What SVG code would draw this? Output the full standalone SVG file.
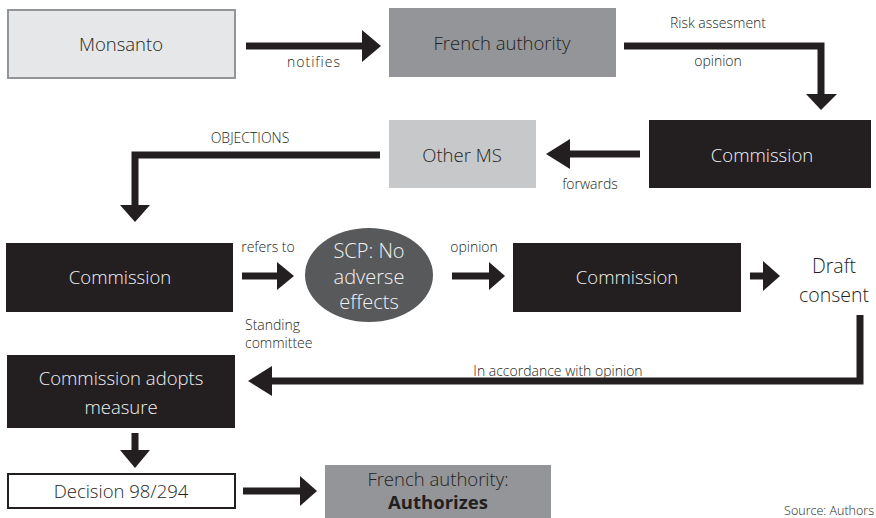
<svg xmlns="http://www.w3.org/2000/svg" width="876" height="518" viewBox="0 0 876 518">
<style>
.t{font-family:"Open Sans","Noto Sans","Liberation Sans",sans-serif;font-size:18.5px;font-weight:300;fill:#231f20;text-anchor:middle}
.w{fill:#f1f1f2}
.l{font-family:"Open Sans","Noto Sans","Liberation Sans",sans-serif;font-size:14px;font-weight:300;fill:#231f20;text-anchor:middle}
.dark{fill:#231f20}
.ln{fill:none;stroke:#231f20;stroke-width:7;stroke-linejoin:miter}
.hd{fill:#231f20}
</style>
<rect width="876" height="518" fill="#fff"/>
<g id="connectors">
  <path class="ln" d="M246 46H364"/><polygon class="hd" points="362,30 381,46 362,62"/>
  <path class="ln" d="M624 46H821V95"/><polygon class="hd" points="806,94 837,94 821,110"/>
  <path class="ln" d="M640 154H568"/><polygon class="hd" points="570,139 570,169 546,154"/>
  <path class="ln" d="M380 155H135V207"/><polygon class="hd" points="120,205 150,205 135,222"/>
  <path class="ln" d="M242 276H279"/><polygon class="hd" points="277,262 294,276 277,290"/>
  <path class="ln" d="M452 276H491"/><polygon class="hd" points="489,262 505,276 489,290"/>
  <path class="ln" d="M750 276H765"/><polygon class="hd" points="763,261 780,276 763,291"/>
  <path class="ln" d="M860 315V381H270"/><polygon class="hd" points="272,366 272,396 248,381"/>
  <path class="ln" d="M135 433V452"/><polygon class="hd" points="120,450 150,450 135,468"/>
  <path class="ln" d="M243 491H302"/><polygon class="hd" points="300,476 317,491 300,506"/>
  <text class="l" x="314" y="67" letter-spacing="1">notifies</text>
  <text class="l" x="718" y="28">Risk assesment</text>
  <text class="l" x="718" y="66">opinion</text>
  <text class="l" x="590" y="189">forwards</text>
  <text class="l" x="250" y="143">OBJECTIONS</text>
  <text class="l" x="268" y="252">refers to</text>
  <text class="l" x="245" y="330" style="text-anchor:start">Standing</text>
  <text class="l" x="245" y="348" style="text-anchor:start">committee</text>
  <text class="l" x="474" y="252">opinion</text>
  <text class="l" x="558" y="376">In accordance with opinion</text>
</g>
<g id="monsanto"><rect x="8" y="10" width="227" height="68" fill="#e6e7e8" stroke="#939598" stroke-width="2"/><text class="t" x="121" y="51">Monsanto</text></g>
<g id="french-authority"><rect x="389" y="8" width="227" height="69" fill="#939598"/><text class="t" x="502" y="50">French authority</text></g>
<g id="commission-1"><rect x="649" y="120" width="222" height="68" class="dark"/><text class="t w" x="762" y="162">Commission</text></g>
<g id="other-ms"><rect x="389" y="120" width="147" height="68" fill="#c7c8ca"/><text class="t" x="462" y="162">Other MS</text></g>
<g id="commission-2"><rect x="6" y="243" width="227" height="69" class="dark"/><text class="t w" x="120" y="284">Commission</text></g>
<g id="scp"><ellipse cx="369" cy="275" rx="64" ry="47" fill="#58595b"/><text class="t w" style="font-size:20px" x="369" y="258">SCP: No</text><text class="t w" style="font-size:20px" x="369" y="284">adverse</text><text class="t w" style="font-size:20px" x="369" y="309">effects</text></g>
<g id="commission-3"><rect x="513" y="243" width="228" height="69" class="dark"/><text class="t w" x="627" y="284">Commission</text></g>
<g id="draft-consent"><text class="t" style="font-size:19.5px" x="834" y="273">Draft</text><text class="t" style="font-size:19.5px" x="834" y="302">consent</text></g>
<g id="commission-adopts"><rect x="7" y="355" width="228" height="73" class="dark"/><text class="t w" x="121" y="385">Commission adopts</text><text class="t w" x="121" y="414">measure</text></g>
<g id="decision"><rect x="8" y="474" width="227" height="34" fill="#fff" stroke="#231f20" stroke-width="2"/><text class="t" x="121" y="498">Decision 98/294</text></g>
<g id="french-authorizes"><rect x="325" y="465" width="226" height="53" fill="#939598"/><text class="t" x="438" y="486">French authority:</text><text class="t" x="438" y="509" style="font-weight:700">Authorizes</text></g>
<text class="l" x="874" y="515" style="text-anchor:end;font-size:12.5px">Source: Authors</text>
</svg>
